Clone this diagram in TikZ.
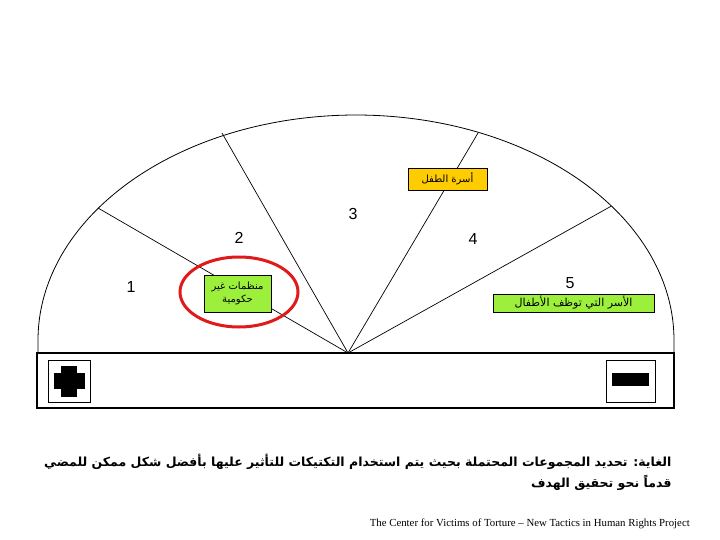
\documentclass[tikz,border=0pt]{standalone}
\usepackage{fontspec}
\setmainfont{Liberation Sans}
\newfontfamily\arabicfont[Script=Arabic]{DejaVu Sans}
\newfontfamily\footfont{Liberation Serif}
\TeXXeTstate=1
\definecolor{yellowbox}{HTML}{FFCC00}
\definecolor{greenbox}{HTML}{9CF03C}
\definecolor{ringred}{HTML}{E01A1A}
\begin{document}
\begin{tikzpicture}[x=1pt,y=-1pt,
  ray/.style={line width=0.7pt},
  num/.style={font=\fontsize{16}{18}\selectfont},
  labelbox/.style={draw, line width=0.8pt, inner sep=1pt, align=center,
    font=\arabicfont\fontsize{10}{13}\selectfont},
  goal/.style={anchor=east, font=\arabicfont\bfseries\fontsize{12.5}{14}\selectfont}
]
\useasboundingbox (0,0) rectangle (720,540);
\coordinate (o) at (348,353);
\coordinate (e1) at (98,208);
\coordinate (e2) at (222,133);
\coordinate (e3) at (478,133);
\coordinate (e4) at (611.5,206);
% half ellipse
\draw[line width=0.8pt] (38,353) -- plot[domain=180:0,samples=160] ({356+318*cos(\x)},{340-225*sin(\x)}) -- (674,353);
% rays
\draw[ray] (o) -- (e1);
\draw[ray] (o) -- (e2);
\draw[ray] (o) -- (e3);
\draw[ray] (o) -- (e4);
% base
\draw[line width=1.2pt] (37,353) rectangle (674,408);
\draw[line width=2.2pt] (37,353) -- (674,353);
% plus
\draw[line width=0.8pt] (48,360) rectangle (90,402);
\fill (61,366) rectangle (77,397);
\fill (54,373) rectangle (85,389);
% minus
\draw[line width=0.8pt] (606,360) rectangle (655,402);
\fill (612,373) rectangle (649,386);
% red ring
\draw[ringred, line width=3pt] (239,292) ellipse [x radius=59, y radius=35];
% boxes
\node[labelbox, fill=yellowbox, minimum width=79pt, minimum height=22pt] (family) at (447.5,179) {\beginR أسرة الطفل\endR};
\node[labelbox, fill=greenbox, minimum width=161pt, minimum height=18pt, font=\arabicfont\fontsize{11}{13}\selectfont] (employ) at (573.5,303) {\beginR الأسر التي توظف الأطفال\endR};
\node[labelbox, fill=greenbox, minimum width=67pt, minimum height=37pt] (ngo) at (237.5,293.5) {\beginR منظمات غير\endR\\\beginR حكومية\endR};
% numbers
\node[num] (n1) at (131,287) {1};
\node[num] (n2) at (239,238) {2};
\node[num] (n3) at (353,214) {3};
\node[num] (n4) at (473,239) {4};
\node[num] (n5) at (570,283) {5};
% goal text
\node[goal] (goal1) at (675,462) {\beginR الغاية: تحديد المجموعات المحتملة بحيث يتم استخدام التكتيكات للتأثير عليها بأفضل شكل ممكن للمضي\endR};
\node[goal] (goal2) at (675,483) {\beginR قدماً نحو تحقيق الهدف\endR};
% footer
\node[anchor=east, inner sep=0pt, font=\footfont\fontsize{10.8}{12}\selectfont] (foot) at (690,524) {The Center for Victims of Torture – New Tactics in Human Rights Project};
\end{tikzpicture}
\end{document}
